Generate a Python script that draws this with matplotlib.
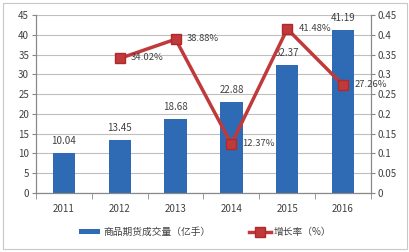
import matplotlib.pyplot as plt
import numpy as np
from matplotlib.patches import Rectangle

plt.rcParams['font.family'] = ['Noto Sans CJK SC', 'DejaVu Sans']

years = ["2011", "2012", "2013", "2014", "2015", "2016"]
volume = [10.04, 13.45, 18.68, 22.88, 32.37, 41.19]
growth_years = ["2012", "2013", "2014", "2015", "2016"]
growth = [0.3402, 0.3888, 0.1237, 0.4148, 0.2726]

bar_color = "#2F6BB5"
line_color = "#C0393B"
text_color = "#404040"

fig = plt.figure(figsize=(4.1, 2.52), dpi=100)
ax = fig.add_axes([36 / 410, 1 - 193 / 252, 335 / 410, 178 / 252])
ax2 = ax.twinx()

x = np.arange(len(years))
ax.bar(x, volume, width=0.4, color=bar_color, zorder=2, label="商品期货成交量（亿手）")
for xi, v in zip(x, volume):
    ax.text(xi, v + 1.8, f"{v:.2f}", ha="center", va="bottom", fontsize=7, color=text_color)

gx = np.array([years.index(y) for y in growth_years])
ax2.plot(gx, growth, color=line_color, lw=2.5, marker="s", ms=6.5,
         markerfacecolor=line_color, markeredgecolor="#B02A2A", zorder=3, label="增长率（%）")
for xi, g in zip(gx, growth):
    ax2.text(xi + 0.2, g + 0.002, f"{g * 100:.2f}%", ha="left", va="center", fontsize=6.8, color=text_color)

ax.set_xlim(-0.5, len(years) - 0.5)
ax.set_ylim(0, 45)
ax.set_yticks(np.arange(0, 46, 5))
ax2.set_ylim(0, 0.45)
ax2.set_yticks(np.arange(0, 0.46, 0.05))
ax2.set_yticklabels(["0", "0.05", "0.1", "0.15", "0.2", "0.25", "0.3", "0.35", "0.4", "0.45"])

ax.set_xticks(x)
ax.set_xticklabels(years)
ax.set_xticks(np.arange(-0.5, len(years), 1), minor=True)
ax.tick_params(axis="x", which="major", length=0, pad=8)
ax.tick_params(axis="x", which="minor", length=4, color="#888888")
ax.tick_params(axis="y", length=3, color="#888888", labelsize=7, labelcolor=text_color, pad=2)
ax.tick_params(axis="x", labelsize=7, labelcolor=text_color)
ax2.tick_params(axis="y", length=3, color="#888888", labelsize=7, labelcolor=text_color, pad=2)

ax.grid(axis="y", color="#BFBFBF", lw=0.8, zorder=0)
ax.set_axisbelow(True)
for a in (ax, ax2):
    a.spines["top"].set_visible(False)
    for s in ("left", "right", "bottom"):
        a.spines[s].set_color("#888888")
        a.spines[s].set_linewidth(0.8)

h1, l1 = ax.get_legend_handles_labels()
h2, l2 = ax2.get_legend_handles_labels()
fig.legend(h1 + h2, l1 + l2, loc="center", bbox_to_anchor=(0.5, 1 - 232 / 252), ncol=2,
           frameon=False, fontsize=7, handlelength=2.2, handleheight=0.5, columnspacing=4,
           handletextpad=0.3, labelcolor=text_color)

fig.patches.append(Rectangle((3 / 410, 3 / 252), 404 / 410, 246 / 252, transform=fig.transFigure,
                             fill=False, edgecolor="#C8C8C8", lw=0.8))

fig.savefig("out.png", dpi=100)
